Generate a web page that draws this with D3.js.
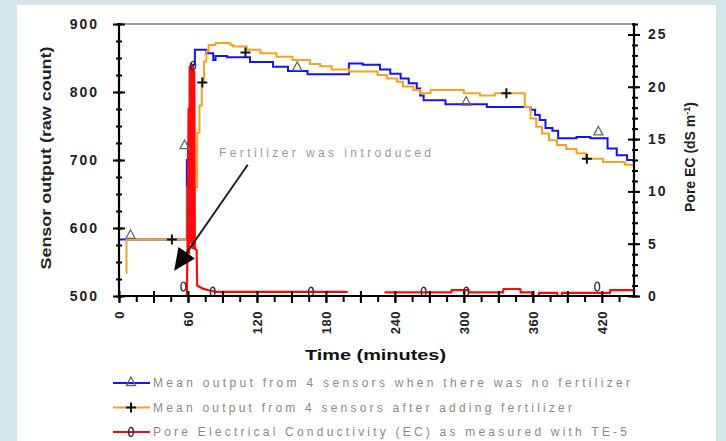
<!DOCTYPE html>
<html>
<head>
<meta charset="utf-8">
<script src="https://cdnjs.cloudflare.com/ajax/libs/d3/7.8.5/d3.min.js"></script>
<style>
  body { margin: 0; background: #d5e6e9; }
  svg { display: block; font-family: "Liberation Sans", Arial, sans-serif; }
</style>
</head>
<body>
<svg id="chart"></svg>
<script>
// time (minutes), sensor output (raw count)
var noFertData = [
  [0, 583], [58, 583], [59, 700], [60, 725], [62, 800], [64, 840], [66, 862],
  [75, 862], [76, 857], [80, 857], [82, 847], [84, 853], [94, 851], [114, 844],
  [134, 837], [147, 831], [164, 826], [200, 842], [212, 840], [227, 833],
  [236, 827], [245, 820], [252, 813], [259, 805], [262, 795], [265, 788],
  [284, 782], [320, 778], [358, 774], [362, 766], [366, 759], [371, 747],
  [377, 743], [382, 732], [398, 734], [410, 732], [425, 717], [433, 707],
  [442, 700], [448, 700]
];
var fertData = [
  [6, 534], [6.5, 583], [59, 583], [59.5, 660], [68, 740], [70, 780], [72, 814],
  [74, 845], [76, 860], [78, 869], [84, 872], [97, 869], [99, 867], [111, 862],
  [123, 857], [137, 852], [151, 847], [166, 841], [175, 838], [185, 833],
  [200, 830], [225, 825], [233, 820], [242, 815], [247, 808], [256, 803],
  [262, 798], [271, 803], [300, 798], [314, 795], [327, 798], [353, 778],
  [358, 761], [363, 749], [368, 739], [374, 729], [381, 722], [389, 716],
  [398, 710], [406, 702], [421, 697], [440, 693], [448, 693]
];
// time (minutes), pore EC (dS/m); null = gap in record
var ecData = [
  [59, 0], [60, 8], [60.5, 18], [61, 4], [61.5, 22], [62, 5], [62.5, 22.3],
  [63, 5], [63.5, 22], [64, 4.5], [64.5, 22], [65, 4.5], [65.5, 21.5], [66, 4.5],
  [67.5, 4.4], [68, 1.0], [73, 0.7], [78, 0.55], [84, 0.4], [199, 0.4],
  [215, null], [231, 0.35], [289, 0.35], [289.5, 0.57], [304, 0.57], [304.5, 0.35],
  [334, 0.35], [334.5, 0.67], [349, 0.67], [349.5, 0.35], [359, 0.35], [359.5, 0],
  [365, 0], [365.5, 0.3], [381, 0.3], [381.5, 0], [385, 0], [385.5, 0.3],
  [427, 0.3], [427.5, 0.57], [448, 0.57]
];

var noFertMarks = [[10, 590], [57, 722], [155, 837], [302, 786], [417, 742]];
var fertMarks = [[46, 583], [72.5, 814], [110, 858], [337, 798], [407, 702]];
var ecMarks = [[56, 0.9], [64.5, 22], [81.5, 0.4], [167, 0.4], [265, 0.4], [302, 0.4], [416, 0.9]];

var xTicks = [0, 60, 120, 180, 240, 300, 360, 420];
var leftTicks = [500, 600, 700, 800, 900];
var rightTicks = [0, 5, 10, 15, 20, 25];

var legendLabels = [
  "Mean output from 4 sensors when there was no fertilizer",
  "Mean output from 4 sensors after adding fertilizer",
  "Pore Electrical Conductivity (EC)  as measured  with TE-5"
];
var annotation = "Fertilizer was introduced";

var W = 726, H = 441;
var svg = d3.select("#chart").attr("width", W).attr("height", H);

svg.append("rect").attr("width", W).attr("height", H).attr("fill", "#d5e6e9");
svg.append("rect").attr("x", 17).attr("y", 5).attr("width", 699).attr("height", 436).attr("fill", "#ffffff");

var pLeft = 119, pRight = 634, pTop = 24, pBottom = 296;

var x = d3.scaleLinear().domain([0, 448]).range([pLeft, pRight]);
var yL = d3.scaleLinear().domain([500, 900]).range([pBottom, pTop]);
var yR = d3.scaleLinear().domain([0, 26]).range([pBottom, pTop]);

// top frame line
svg.append("line")
  .attr("x1", pLeft).attr("x2", pRight).attr("y1", pTop).attr("y2", pTop)
  .attr("stroke", "#808080").attr("stroke-width", 1.5);

// series
var stepLine = d3.line()
  .x(function(d) { return x(d[0]); })
  .y(function(d) { return yL(d[1]); })
  .curve(d3.curveStepAfter);

var ecLine = d3.line()
  .defined(function(d) { return d[1] != null; })
  .x(function(d) { return x(d[0]); })
  .y(function(d) { return yR(d[1]); });

svg.append("path").datum(noFertData)
  .attr("d", stepLine).attr("fill", "none")
  .attr("stroke", "#1414f5").attr("stroke-width", 2);

svg.append("path").datum(fertData)
  .attr("d", stepLine).attr("fill", "none")
  .attr("stroke", "#f7a21c").attr("stroke-width", 2);

svg.append("path").datum(ecData)
  .attr("d", ecLine).attr("fill", "none")
  .attr("stroke", "#ff0a0a").attr("stroke-width", 2.2);

// markers
function triangle(g) {
  g.append("path").attr("d", "M0,-5L4.5,3.5L-4.5,3.5Z")
    .attr("fill", "none").attr("stroke", "#666").attr("stroke-width", 1.3);
}
function cross(g) {
  g.append("path").attr("d", "M-5,0H5M0,-5V5")
    .attr("stroke", "#111").attr("stroke-width", 2);
}
function oval(g) {
  g.append("ellipse").attr("rx", 2.4).attr("ry", 4.5)
    .attr("fill", "none").attr("stroke", "#333").attr("stroke-width", 1.4);
}

noFertMarks.forEach(function(d) {
  triangle(svg.append("g").attr("transform", "translate(" + x(d[0]) + "," + yL(d[1]) + ")"));
});
fertMarks.forEach(function(d) {
  cross(svg.append("g").attr("transform", "translate(" + x(d[0]) + "," + yL(d[1]) + ")"));
});
ecMarks.forEach(function(d) {
  oval(svg.append("g").attr("transform", "translate(" + x(d[0]) + "," + yR(d[1]) + ")"));
});

// axes
function steps(a, b, s) { return d3.range(a, b + s / 2, s); }

var gL = svg.append("g").attr("transform", "translate(" + pLeft + ",0)")
  .call(d3.axisLeft(yL).tickValues(steps(500, 900, 25)).tickFormat("").tickSize(3));
gL.selectAll(".tick line").attr("x1", 3);
var aL = svg.append("g").attr("transform", "translate(" + pLeft + ",0)")
  .call(d3.axisLeft(yL).tickValues(leftTicks).tickSize(6).tickPadding(14).tickFormat(d3.format("d")));
aL.selectAll(".tick line").attr("x1", 6);
aL.selectAll("text").style("font-size", "14px").style("font-weight", "bold")
  .style("letter-spacing", "2px").attr("fill", "#222");

var gR = svg.append("g").attr("transform", "translate(" + pRight + ",0)")
  .call(d3.axisRight(yR).tickValues(steps(0, 26, 1)).tickFormat("").tickSize(4));
gR.selectAll(".tick line").attr("x1", -2);
var aR = svg.append("g").attr("transform", "translate(" + pRight + ",0)")
  .call(d3.axisRight(yR).tickValues(rightTicks).tickSize(6).tickPadding(8));
aR.selectAll(".tick line").attr("x1", -6);
aR.selectAll("text").style("font-size", "14px").style("font-weight", "bold")
  .style("letter-spacing", "2px").attr("fill", "#222");

var gB = svg.append("g").attr("transform", "translate(0," + pBottom + ")")
  .call(d3.axisBottom(x).tickValues(steps(0, 435, 15)).tickFormat("").tickSize(6));
gB.selectAll(".tick line").attr("y1", 1);
var gB2 = svg.append("g").attr("transform", "translate(0," + pBottom + ")")
  .call(d3.axisBottom(x).tickValues(steps(0, 420, 30)).tickFormat("").tickSize(7));
gB2.selectAll(".tick line").attr("y1", -5);
var aB = svg.append("g").attr("transform", "translate(0," + pBottom + ")")
  .call(d3.axisBottom(x).tickValues(xTicks).tickSize(0));
aB.selectAll("text")
  .attr("transform", "rotate(-90)")
  .attr("x", -15).attr("y", 0).attr("dy", "0.36em")
  .attr("text-anchor", "end")
  .style("font-size", "13px").style("font-weight", "bold")
  .style("letter-spacing", "0.5px").attr("fill", "#222");

svg.selectAll(".domain").remove();
svg.selectAll(".tick line").attr("stroke", "#000").attr("stroke-width", 2);

// axis lines
svg.append("line").attr("x1", pLeft).attr("x2", pLeft).attr("y1", pTop - 1).attr("y2", pBottom + 1)
  .attr("stroke", "#000").attr("stroke-width", 2.2);
svg.append("line").attr("x1", pRight).attr("x2", pRight).attr("y1", pTop - 1).attr("y2", pBottom + 1)
  .attr("stroke", "#000").attr("stroke-width", 2.2);
svg.append("line").attr("x1", pLeft).attr("x2", pRight).attr("y1", pBottom).attr("y2", pBottom)
  .attr("stroke", "#000").attr("stroke-width", 2.2);

// axis titles
svg.append("text")
  .attr("transform", "translate(51,158) rotate(-90)")
  .attr("text-anchor", "middle")
  .attr("textLength", 223).attr("lengthAdjust", "spacingAndGlyphs")
  .style("font-size", "14px").style("font-weight", "bold").attr("fill", "#222")
  .text("Sensor output (raw count)");

var rt = svg.append("text")
  .attr("transform", "translate(695,157) rotate(-90)")
  .attr("text-anchor", "middle")
  .style("font-size", "14px").style("font-weight", "bold").attr("fill", "#222");
rt.append("tspan").text("Pore EC (dS m");
rt.append("tspan").attr("dy", -5).style("font-size", "9px").text("-1");
rt.append("tspan").attr("dy", 5).text(")");

svg.append("text")
  .attr("x", 305).attr("y", 360)
  .attr("textLength", 141).attr("lengthAdjust", "spacingAndGlyphs")
  .style("font-size", "15px").style("font-weight", "bold").attr("fill", "#111")
  .text("Time (minutes)");

// annotation with arrow
svg.append("text")
  .attr("x", x(87)).attr("y", yL(705))
  .attr("textLength", 212).attr("lengthAdjust", "spacing")
  .style("font-size", "12px").attr("fill", "#9a9a9a")
  .text(annotation);

var ax1 = x(112), ay1 = yL(693), ax2 = x(48), ay2 = yL(537);
var ang = Math.atan2(ay2 - ay1, ax2 - ax1);
svg.append("line")
  .attr("x1", ax1).attr("y1", ay1).attr("x2", ax2 - 14 * Math.cos(ang)).attr("y2", ay2 - 14 * Math.sin(ang))
  .attr("stroke", "#222").attr("stroke-width", 2);
svg.append("path")
  .attr("transform", "translate(" + ax2 + "," + ay2 + ") rotate(" + (ang * 180 / Math.PI) + ")")
  .attr("d", "M0,0L-22,-10L-22,10Z").attr("fill", "#000");

// legend
var legendColors = ["#1414f5", "#f7a21c", "#ff0a0a"];
var legendMarks = [triangle, cross, oval];
var legendLen = [477, 419, 474];
legendLabels.forEach(function(label, i) {
  var ly = 383 + i * 24.5;
  svg.append("line").attr("x1", 113).attr("x2", 150).attr("y1", ly).attr("y2", ly)
    .attr("stroke", legendColors[i]).attr("stroke-width", 2.2);
  legendMarks[i](svg.append("g").attr("transform", "translate(131," + (ly - (i === 0 ? 1 : 0)) + ")"));
  svg.append("text")
    .attr("x", 153).attr("y", ly + 4)
    .attr("textLength", legendLen[i]).attr("lengthAdjust", "spacing")
    .style("font-size", "12px").attr("fill", "#8a8a8a")
    .text(label);
});
</script>
</body>
</html>
